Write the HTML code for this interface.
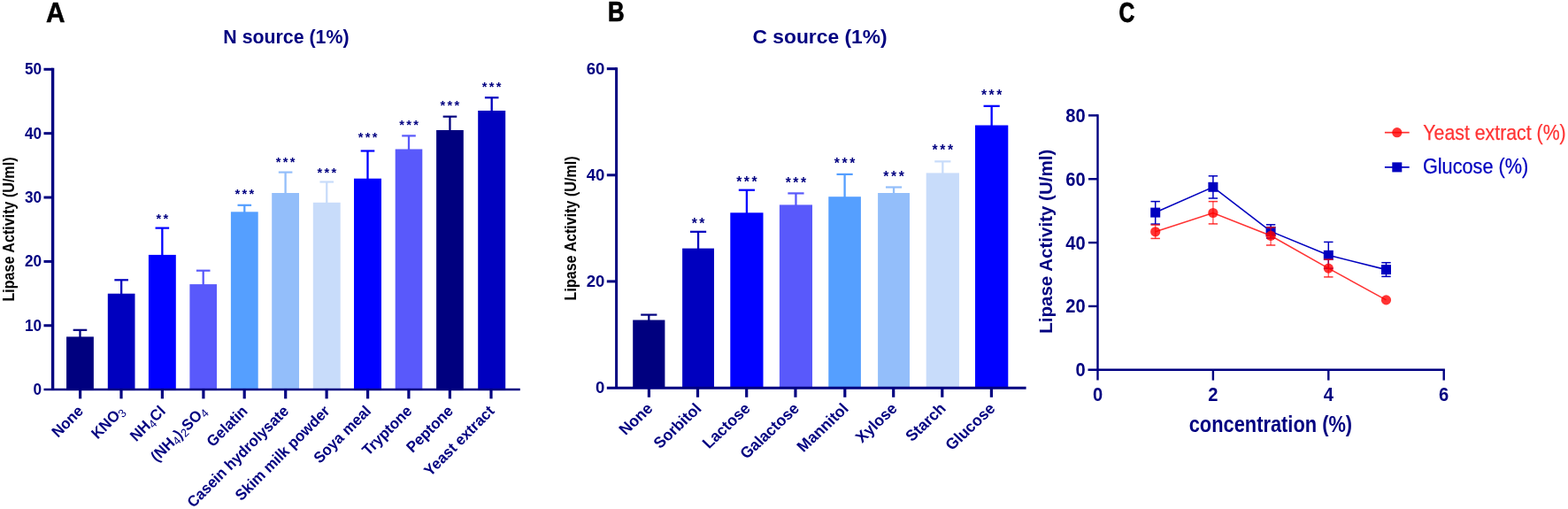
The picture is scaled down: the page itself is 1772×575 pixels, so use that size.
<!DOCTYPE html>
<html lang="en">
<head>
<meta charset="utf-8">
<title>Lipase activity charts</title>
<style>
html, body { margin: 0; padding: 0; background: #fff; }
body { width: 1772px; height: 575px; overflow: hidden; }
svg { display: block; font-family: 'Liberation Sans', Arial, sans-serif; }
text { font-family: 'Liberation Sans', Arial, sans-serif; }
</style>
</head>
<body>
<svg width="1772" height="575" viewBox="0 0 1772 575">
<rect x="0" y="0" width="1772" height="575" fill="#ffffff"/>
<text transform="translate(51.90 24.60) scale(0.96 1)" font-size="31" font-weight="bold" fill="#000" text-anchor="start" stroke="#000" stroke-width="0.5">A</text>
<text transform="translate(686.90 24.25) scale(0.831 1)" font-size="31" font-weight="bold" fill="#000" text-anchor="start" stroke="#000" stroke-width="0.7">B</text>
<text transform="translate(1264.50 24.55) scale(0.806 1)" font-size="30.5" font-weight="bold" fill="#000" text-anchor="start" stroke="#000" stroke-width="0.8">C</text>
<rect x="75.06" y="380.40" width="30.81" height="59.50" fill="#00007F"/>
<line x1="90.47" y1="372.80" x2="90.47" y2="381.40" stroke="#00007F" stroke-width="2.3" />
<line x1="82.67" y1="372.80" x2="98.27" y2="372.80" stroke="#00007F" stroke-width="2.2" />
<rect x="121.80" y="331.70" width="30.70" height="108.20" fill="#0000BF"/>
<line x1="137.15" y1="316.30" x2="137.15" y2="332.70" stroke="#0000BF" stroke-width="2.3" />
<line x1="129.35" y1="316.30" x2="144.95" y2="316.30" stroke="#0000BF" stroke-width="2.2" />
<rect x="167.90" y="287.90" width="30.90" height="152.00" fill="#0000FF"/>
<line x1="183.35" y1="257.60" x2="183.35" y2="288.90" stroke="#0000FF" stroke-width="2.3" />
<line x1="175.55" y1="257.60" x2="191.15" y2="257.60" stroke="#0000FF" stroke-width="2.2" />
<text transform="translate(176.50 251.73)" font-size="14.6" font-weight="bold" fill="#000080" text-anchor="start" letter-spacing="2.32">**</text>
<rect x="214.40" y="321.10" width="30.60" height="118.80" fill="#5959FB"/>
<line x1="229.70" y1="305.70" x2="229.70" y2="322.10" stroke="#5959FB" stroke-width="2.3" />
<line x1="221.90" y1="305.70" x2="237.50" y2="305.70" stroke="#5959FB" stroke-width="2.2" />
<rect x="260.90" y="239.30" width="30.80" height="200.60" fill="#559FFF"/>
<line x1="276.30" y1="231.80" x2="276.30" y2="240.30" stroke="#559FFF" stroke-width="2.3" />
<line x1="268.50" y1="231.80" x2="284.10" y2="231.80" stroke="#559FFF" stroke-width="2.2" />
<text transform="translate(265.45 224.03)" font-size="14.6" font-weight="bold" fill="#000080" text-anchor="start" letter-spacing="2.32">***</text>
<rect x="307.20" y="218.00" width="30.80" height="221.90" fill="#93BEFA"/>
<line x1="322.60" y1="194.60" x2="322.60" y2="219.00" stroke="#93BEFA" stroke-width="2.3" />
<line x1="314.80" y1="194.60" x2="330.40" y2="194.60" stroke="#93BEFA" stroke-width="2.2" />
<text transform="translate(311.75 187.93)" font-size="14.6" font-weight="bold" fill="#000080" text-anchor="start" letter-spacing="2.32">***</text>
<rect x="353.80" y="228.80" width="30.90" height="211.10" fill="#C8DCFA"/>
<line x1="369.25" y1="205.50" x2="369.25" y2="229.80" stroke="#C8DCFA" stroke-width="2.3" />
<line x1="361.45" y1="205.50" x2="377.05" y2="205.50" stroke="#C8DCFA" stroke-width="2.2" />
<text transform="translate(358.40 199.83)" font-size="14.6" font-weight="bold" fill="#000080" text-anchor="start" letter-spacing="2.32">***</text>
<rect x="400.00" y="201.70" width="31.00" height="238.20" fill="#0000FF"/>
<line x1="415.50" y1="170.50" x2="415.50" y2="202.70" stroke="#0000FF" stroke-width="2.3" />
<line x1="407.70" y1="170.50" x2="423.30" y2="170.50" stroke="#0000FF" stroke-width="2.2" />
<text transform="translate(404.65 160.03)" font-size="14.6" font-weight="bold" fill="#000080" text-anchor="start" letter-spacing="2.32">***</text>
<rect x="446.70" y="168.50" width="30.60" height="271.40" fill="#5959FB"/>
<line x1="462.00" y1="153.40" x2="462.00" y2="169.50" stroke="#5959FB" stroke-width="2.3" />
<line x1="454.20" y1="153.40" x2="469.80" y2="153.40" stroke="#5959FB" stroke-width="2.2" />
<text transform="translate(451.15 145.93)" font-size="14.6" font-weight="bold" fill="#000080" text-anchor="start" letter-spacing="2.32">***</text>
<rect x="493.10" y="147.00" width="30.70" height="292.90" fill="#00007F"/>
<line x1="508.45" y1="131.70" x2="508.45" y2="148.00" stroke="#00007F" stroke-width="2.3" />
<line x1="500.65" y1="131.70" x2="516.25" y2="131.70" stroke="#00007F" stroke-width="2.2" />
<text transform="translate(497.60 123.93)" font-size="14.6" font-weight="bold" fill="#000080" text-anchor="start" letter-spacing="2.32">***</text>
<rect x="540.20" y="125.00" width="31.00" height="314.90" fill="#0000BF"/>
<line x1="555.70" y1="110.30" x2="555.70" y2="126.00" stroke="#0000BF" stroke-width="2.3" />
<line x1="547.90" y1="110.30" x2="563.50" y2="110.30" stroke="#0000BF" stroke-width="2.2" />
<text transform="translate(544.85 102.63)" font-size="14.6" font-weight="bold" fill="#000080" text-anchor="start" letter-spacing="2.32">***</text>
<line x1="59.60" y1="76.80" x2="59.60" y2="439.90" stroke="#000080" stroke-width="3.4" />
<line x1="49.50" y1="439.90" x2="587.80" y2="439.90" stroke="#000080" stroke-width="2.5" />
<line x1="49.50" y1="78.30" x2="59.60" y2="78.30" stroke="#000080" stroke-width="3" />
<text transform="translate(47.00 84.20) scale(0.935 1)" font-size="18.4" font-weight="bold" fill="#000080" text-anchor="end" >50</text>
<line x1="49.50" y1="150.66" x2="59.60" y2="150.66" stroke="#000080" stroke-width="3" />
<text transform="translate(47.00 156.56) scale(0.935 1)" font-size="18.4" font-weight="bold" fill="#000080" text-anchor="end" >40</text>
<line x1="49.50" y1="223.02" x2="59.60" y2="223.02" stroke="#000080" stroke-width="3" />
<text transform="translate(47.00 228.92) scale(0.935 1)" font-size="18.4" font-weight="bold" fill="#000080" text-anchor="end" >30</text>
<line x1="49.50" y1="295.38" x2="59.60" y2="295.38" stroke="#000080" stroke-width="3" />
<text transform="translate(47.00 301.28) scale(0.935 1)" font-size="18.4" font-weight="bold" fill="#000080" text-anchor="end" >20</text>
<line x1="49.50" y1="367.74" x2="59.60" y2="367.74" stroke="#000080" stroke-width="3" />
<text transform="translate(47.00 373.64) scale(0.935 1)" font-size="18.4" font-weight="bold" fill="#000080" text-anchor="end" >10</text>
<text transform="translate(47.00 446.00) scale(0.935 1)" font-size="18.4" font-weight="bold" fill="#000080" text-anchor="end" >0</text>
<line x1="90.60" y1="439.90" x2="90.60" y2="450.40" stroke="#000080" stroke-width="3.2" />
<text transform="translate(95.20 465.40) rotate(-45) scale(0.971 1)" font-size="17.3" font-weight="bold" fill="#000080" text-anchor="end" >None</text>
<line x1="137.00" y1="439.90" x2="137.00" y2="450.40" stroke="#000080" stroke-width="3.2" />
<text transform="translate(141.60 465.40) rotate(-45) scale(0.971 1)" font-size="17.3" font-weight="bold" fill="#000080" text-anchor="end" >KNO<tspan font-size="13" font-weight="normal" dy="3">3</tspan></text>
<line x1="183.40" y1="439.90" x2="183.40" y2="450.40" stroke="#000080" stroke-width="3.2" />
<text transform="translate(188.00 465.40) rotate(-45) scale(0.971 1)" font-size="17.3" font-weight="bold" fill="#000080" text-anchor="end" >NH<tspan font-size="13" font-weight="normal" dy="3">4</tspan><tspan dy="-3">Cl</tspan></text>
<line x1="229.90" y1="439.90" x2="229.90" y2="450.40" stroke="#000080" stroke-width="3.2" />
<text transform="translate(234.50 465.40) rotate(-45) scale(0.971 1)" font-size="17.3" font-weight="bold" fill="#000080" text-anchor="end" >(NH<tspan font-size="13" font-weight="normal" dy="3">4</tspan><tspan dy="-3">)</tspan><tspan font-size="13" font-weight="normal" dy="3">2</tspan><tspan dy="-3">SO</tspan><tspan font-size="13" font-weight="normal" dy="3">4</tspan></text>
<line x1="276.20" y1="439.90" x2="276.20" y2="450.40" stroke="#000080" stroke-width="3.2" />
<text transform="translate(280.80 465.40) rotate(-45) scale(0.971 1)" font-size="17.3" font-weight="bold" fill="#000080" text-anchor="end" >Gelatin</text>
<line x1="322.70" y1="439.90" x2="322.70" y2="450.40" stroke="#000080" stroke-width="3.2" />
<text transform="translate(327.30 465.40) rotate(-45) scale(0.971 1)" font-size="17.3" font-weight="bold" fill="#000080" text-anchor="end" >Casein hydrolysate</text>
<line x1="369.10" y1="439.90" x2="369.10" y2="450.40" stroke="#000080" stroke-width="3.2" />
<text transform="translate(373.70 465.40) rotate(-45) scale(0.971 1)" font-size="17.3" font-weight="bold" fill="#000080" text-anchor="end" >Skim milk powder</text>
<line x1="415.60" y1="439.90" x2="415.60" y2="450.40" stroke="#000080" stroke-width="3.2" />
<text transform="translate(420.20 465.40) rotate(-45) scale(0.971 1)" font-size="17.3" font-weight="bold" fill="#000080" text-anchor="end" >Soya meal</text>
<line x1="461.90" y1="439.90" x2="461.90" y2="450.40" stroke="#000080" stroke-width="3.2" />
<text transform="translate(466.50 465.40) rotate(-45) scale(0.971 1)" font-size="17.3" font-weight="bold" fill="#000080" text-anchor="end" >Tryptone</text>
<line x1="508.40" y1="439.90" x2="508.40" y2="450.40" stroke="#000080" stroke-width="3.2" />
<text transform="translate(513.00 465.40) rotate(-45) scale(0.971 1)" font-size="17.3" font-weight="bold" fill="#000080" text-anchor="end" >Peptone</text>
<line x1="555.00" y1="439.90" x2="555.00" y2="450.40" stroke="#000080" stroke-width="3.2" />
<text transform="translate(559.60 465.40) rotate(-45) scale(0.971 1)" font-size="17.3" font-weight="bold" fill="#000080" text-anchor="end" >Yeast extract</text>
<text transform="translate(323.40 48.50) scale(0.97 1)" font-size="22" font-weight="bold" fill="#000080" text-anchor="middle" >N source (1%)</text>
<text transform="translate(15.80 259.00) rotate(-90)" font-size="19" font-weight="bold" fill="#000" text-anchor="middle" textLength="163" lengthAdjust="spacingAndGlyphs" >Lipase Activity (U/ml)</text>
<rect x="715.20" y="361.50" width="36.20" height="76.80" fill="#00007F"/>
<line x1="733.30" y1="355.60" x2="733.30" y2="362.50" stroke="#00007F" stroke-width="2.3" />
<line x1="724.20" y1="355.60" x2="742.40" y2="355.60" stroke="#00007F" stroke-width="2.2" />
<rect x="771.10" y="280.60" width="35.90" height="157.70" fill="#0000BF"/>
<line x1="789.05" y1="261.80" x2="789.05" y2="281.60" stroke="#0000BF" stroke-width="2.3" />
<line x1="779.95" y1="261.80" x2="798.15" y2="261.80" stroke="#0000BF" stroke-width="2.2" />
<text transform="translate(781.65 258.38)" font-size="15.7" font-weight="bold" fill="#000080" text-anchor="start" letter-spacing="2.55">**</text>
<rect x="825.30" y="240.30" width="37.20" height="198.00" fill="#0000FF"/>
<line x1="843.90" y1="214.70" x2="843.90" y2="241.30" stroke="#0000FF" stroke-width="2.3" />
<line x1="834.80" y1="214.70" x2="853.00" y2="214.70" stroke="#0000FF" stroke-width="2.2" />
<text transform="translate(832.17 210.88)" font-size="15.7" font-weight="bold" fill="#000080" text-anchor="start" letter-spacing="2.55">***</text>
<rect x="880.90" y="231.40" width="37.10" height="206.90" fill="#5959FB"/>
<line x1="899.45" y1="218.40" x2="899.45" y2="232.40" stroke="#5959FB" stroke-width="2.3" />
<line x1="890.35" y1="218.40" x2="908.55" y2="218.40" stroke="#5959FB" stroke-width="2.2" />
<text transform="translate(887.72 212.08)" font-size="15.7" font-weight="bold" fill="#000080" text-anchor="start" letter-spacing="2.55">***</text>
<rect x="936.30" y="222.20" width="36.60" height="216.10" fill="#559FFF"/>
<line x1="954.60" y1="196.90" x2="954.60" y2="223.20" stroke="#559FFF" stroke-width="2.3" />
<line x1="945.50" y1="196.90" x2="963.70" y2="196.90" stroke="#559FFF" stroke-width="2.2" />
<text transform="translate(942.87 190.18)" font-size="15.7" font-weight="bold" fill="#000080" text-anchor="start" letter-spacing="2.55">***</text>
<rect x="992.10" y="218.00" width="35.90" height="220.30" fill="#93BEFA"/>
<line x1="1010.05" y1="211.50" x2="1010.05" y2="219.00" stroke="#93BEFA" stroke-width="2.3" />
<line x1="1000.95" y1="211.50" x2="1019.15" y2="211.50" stroke="#93BEFA" stroke-width="2.2" />
<text transform="translate(998.32 205.38)" font-size="15.7" font-weight="bold" fill="#000080" text-anchor="start" letter-spacing="2.55">***</text>
<rect x="1046.70" y="195.40" width="37.25" height="242.90" fill="#C8DCFA"/>
<line x1="1065.33" y1="182.40" x2="1065.33" y2="196.40" stroke="#C8DCFA" stroke-width="2.3" />
<line x1="1056.23" y1="182.40" x2="1074.42" y2="182.40" stroke="#C8DCFA" stroke-width="2.2" />
<text transform="translate(1053.60 174.88)" font-size="15.7" font-weight="bold" fill="#000080" text-anchor="start" letter-spacing="2.55">***</text>
<rect x="1102.00" y="141.50" width="37.30" height="296.80" fill="#0000FF"/>
<line x1="1120.65" y1="119.80" x2="1120.65" y2="142.50" stroke="#0000FF" stroke-width="2.3" />
<line x1="1111.55" y1="119.80" x2="1129.75" y2="119.80" stroke="#0000FF" stroke-width="2.2" />
<text transform="translate(1108.92 112.88)" font-size="15.7" font-weight="bold" fill="#000080" text-anchor="start" letter-spacing="2.55">***</text>
<line x1="696.60" y1="76.20" x2="696.60" y2="438.30" stroke="#000080" stroke-width="3.0" />
<line x1="685.80" y1="438.30" x2="1159.60" y2="438.30" stroke="#000080" stroke-width="2.9" />
<line x1="685.80" y1="77.70" x2="696.60" y2="77.70" stroke="#000080" stroke-width="3" />
<text transform="translate(683.35 83.60) scale(1.01 1)" font-size="18.4" font-weight="bold" fill="#000080" text-anchor="end" >60</text>
<line x1="685.80" y1="197.80" x2="696.60" y2="197.80" stroke="#000080" stroke-width="3" />
<text transform="translate(683.35 203.70) scale(1.01 1)" font-size="18.4" font-weight="bold" fill="#000080" text-anchor="end" >40</text>
<line x1="685.80" y1="317.90" x2="696.60" y2="317.90" stroke="#000080" stroke-width="3" />
<text transform="translate(683.35 323.80) scale(1.01 1)" font-size="18.4" font-weight="bold" fill="#000080" text-anchor="end" >20</text>
<text transform="translate(683.35 443.90) scale(1.01 1)" font-size="18.4" font-weight="bold" fill="#000080" text-anchor="end" >0</text>
<line x1="733.40" y1="438.30" x2="733.40" y2="448.80" stroke="#000080" stroke-width="3.2" />
<text transform="translate(738.70 462.60) scale(1.065 1) rotate(-45) scale(0.971 1)" font-size="17.3" font-weight="bold" fill="#000080" text-anchor="end" >None</text>
<line x1="788.50" y1="438.30" x2="788.50" y2="448.80" stroke="#000080" stroke-width="3.2" />
<text transform="translate(793.80 462.60) scale(1.065 1) rotate(-45) scale(0.971 1)" font-size="17.3" font-weight="bold" fill="#000080" text-anchor="end" >Sorbitol</text>
<line x1="843.70" y1="438.30" x2="843.70" y2="448.80" stroke="#000080" stroke-width="3.2" />
<text transform="translate(849.00 462.60) scale(1.065 1) rotate(-45) scale(0.971 1)" font-size="17.3" font-weight="bold" fill="#000080" text-anchor="end" >Lactose</text>
<line x1="898.95" y1="438.30" x2="898.95" y2="448.80" stroke="#000080" stroke-width="3.2" />
<text transform="translate(904.25 462.60) scale(1.065 1) rotate(-45) scale(0.971 1)" font-size="17.3" font-weight="bold" fill="#000080" text-anchor="end" >Galactose</text>
<line x1="954.80" y1="438.30" x2="954.80" y2="448.80" stroke="#000080" stroke-width="3.2" />
<text transform="translate(960.10 462.60) scale(1.065 1) rotate(-45) scale(0.971 1)" font-size="17.3" font-weight="bold" fill="#000080" text-anchor="end" >Mannitol</text>
<line x1="1009.70" y1="438.30" x2="1009.70" y2="448.80" stroke="#000080" stroke-width="3.2" />
<text transform="translate(1015.00 462.60) scale(1.065 1) rotate(-45) scale(0.971 1)" font-size="17.3" font-weight="bold" fill="#000080" text-anchor="end" >Xylose</text>
<line x1="1064.80" y1="438.30" x2="1064.80" y2="448.80" stroke="#000080" stroke-width="3.2" />
<text transform="translate(1070.10 462.60) scale(1.065 1) rotate(-45) scale(0.971 1)" font-size="17.3" font-weight="bold" fill="#000080" text-anchor="end" >Starch</text>
<line x1="1120.40" y1="438.30" x2="1120.40" y2="448.80" stroke="#000080" stroke-width="3.2" />
<text transform="translate(1125.70 462.60) scale(1.065 1) rotate(-45) scale(0.971 1)" font-size="17.3" font-weight="bold" fill="#000080" text-anchor="end" >Glucose</text>
<text transform="translate(926.50 48.50) scale(1.037 1)" font-size="22" font-weight="bold" fill="#000080" text-anchor="middle" >C source (1%)</text>
<text transform="translate(651.30 257.90) rotate(-90)" font-size="19" font-weight="bold" fill="#000" text-anchor="middle" textLength="163" lengthAdjust="spacingAndGlyphs" >Lipase Activity (U/ml)</text>
<line x1="1240.50" y1="129.20" x2="1240.50" y2="429.60" stroke="#000080" stroke-width="2.4" />
<line x1="1229.50" y1="417.80" x2="1632.90" y2="417.80" stroke="#000080" stroke-width="2.4" />
<line x1="1230.00" y1="130.40" x2="1240.50" y2="130.40" stroke="#000080" stroke-width="2.4" />
<text transform="translate(1226.60 137.80) scale(0.908 1)" font-size="22.2" font-weight="bold" fill="#000080" text-anchor="end" >80</text>
<line x1="1230.00" y1="202.25" x2="1240.50" y2="202.25" stroke="#000080" stroke-width="2.4" />
<text transform="translate(1226.60 209.65) scale(0.908 1)" font-size="22.2" font-weight="bold" fill="#000080" text-anchor="end" >60</text>
<line x1="1230.00" y1="274.10" x2="1240.50" y2="274.10" stroke="#000080" stroke-width="2.4" />
<text transform="translate(1226.60 281.50) scale(0.908 1)" font-size="22.2" font-weight="bold" fill="#000080" text-anchor="end" >40</text>
<line x1="1230.00" y1="345.95" x2="1240.50" y2="345.95" stroke="#000080" stroke-width="2.4" />
<text transform="translate(1226.60 353.35) scale(0.908 1)" font-size="22.2" font-weight="bold" fill="#000080" text-anchor="end" >20</text>
<text transform="translate(1226.60 425.20) scale(0.908 1)" font-size="22.2" font-weight="bold" fill="#000080" text-anchor="end" >0</text>
<text transform="translate(1240.50 453.40) scale(0.908 1)" font-size="22.2" font-weight="bold" fill="#000080" text-anchor="middle" >0</text>
<line x1="1370.90" y1="417.80" x2="1370.90" y2="429.60" stroke="#000080" stroke-width="2.4" />
<text transform="translate(1370.90 453.40) scale(0.908 1)" font-size="22.2" font-weight="bold" fill="#000080" text-anchor="middle" >2</text>
<line x1="1501.30" y1="417.80" x2="1501.30" y2="429.60" stroke="#000080" stroke-width="2.4" />
<text transform="translate(1501.30 453.40) scale(0.908 1)" font-size="22.2" font-weight="bold" fill="#000080" text-anchor="middle" >4</text>
<line x1="1631.70" y1="417.80" x2="1631.70" y2="429.60" stroke="#000080" stroke-width="2.4" />
<text transform="translate(1631.70 453.40) scale(0.908 1)" font-size="22.2" font-weight="bold" fill="#000080" text-anchor="middle" >6</text>
<text transform="translate(1435.90 487.80)" font-size="26" font-weight="bold" fill="#000080" text-anchor="middle" textLength="184.5" lengthAdjust="spacingAndGlyphs" >concentration (%)</text>
<text transform="translate(1189.00 272.75) rotate(-90)" font-size="20.6" font-weight="bold" fill="#000080" text-anchor="middle" textLength="208" lengthAdjust="spacingAndGlyphs" >Lipase Activity (U/ml)</text>
<polyline fill="none" stroke="#0000BF" stroke-width="1.6" points="1305.70,240.10 1370.90,211.30 1436.10,261.40 1501.30,288.30 1566.50,304.60"/>
<line x1="1305.70" y1="227.60" x2="1305.70" y2="253.10" stroke="#0000BF" stroke-width="1.5" />
<line x1="1300.50" y1="227.60" x2="1310.90" y2="227.60" stroke="#0000BF" stroke-width="1.5" />
<line x1="1300.50" y1="253.10" x2="1310.90" y2="253.10" stroke="#0000BF" stroke-width="1.5" />
<rect x="1300.20" y="234.60" width="11.00" height="11.00" fill="#0000BF"/>
<line x1="1370.90" y1="198.80" x2="1370.90" y2="224.00" stroke="#0000BF" stroke-width="1.5" />
<line x1="1365.70" y1="198.80" x2="1376.10" y2="198.80" stroke="#0000BF" stroke-width="1.5" />
<line x1="1365.70" y1="224.00" x2="1376.10" y2="224.00" stroke="#0000BF" stroke-width="1.5" />
<rect x="1365.40" y="205.80" width="11.00" height="11.00" fill="#0000BF"/>
<line x1="1436.10" y1="253.80" x2="1436.10" y2="269.00" stroke="#0000BF" stroke-width="1.5" />
<line x1="1430.90" y1="253.80" x2="1441.30" y2="253.80" stroke="#0000BF" stroke-width="1.5" />
<line x1="1430.90" y1="269.00" x2="1441.30" y2="269.00" stroke="#0000BF" stroke-width="1.5" />
<rect x="1430.60" y="255.90" width="11.00" height="11.00" fill="#0000BF"/>
<line x1="1501.30" y1="273.40" x2="1501.30" y2="303.20" stroke="#0000BF" stroke-width="1.5" />
<line x1="1496.10" y1="273.40" x2="1506.50" y2="273.40" stroke="#0000BF" stroke-width="1.5" />
<line x1="1496.10" y1="303.20" x2="1506.50" y2="303.20" stroke="#0000BF" stroke-width="1.5" />
<rect x="1495.80" y="282.80" width="11.00" height="11.00" fill="#0000BF"/>
<line x1="1566.50" y1="296.70" x2="1566.50" y2="312.40" stroke="#0000BF" stroke-width="1.5" />
<line x1="1561.30" y1="296.70" x2="1571.70" y2="296.70" stroke="#0000BF" stroke-width="1.5" />
<line x1="1561.30" y1="312.40" x2="1571.70" y2="312.40" stroke="#0000BF" stroke-width="1.5" />
<rect x="1561.00" y="299.10" width="11.00" height="11.00" fill="#0000BF"/>
<g opacity="0.8">
<polyline fill="none" stroke="#FF0000" stroke-width="1.6" points="1305.70,261.80 1370.90,240.50 1436.10,266.30 1501.30,303.10 1566.50,338.90"/>
</g>
<circle cx="1305.70" cy="261.80" r="5.6" fill="#FF0000" fill-opacity="0.8"/>
<line x1="1305.70" y1="254.10" x2="1305.70" y2="269.40" stroke="#FF0000" stroke-width="1.5" stroke-opacity="0.6"/>
<line x1="1300.50" y1="254.10" x2="1310.90" y2="254.10" stroke="#FF0000" stroke-width="1.5" stroke-opacity="0.8"/>
<line x1="1300.50" y1="269.40" x2="1310.90" y2="269.40" stroke="#FF0000" stroke-width="1.5" stroke-opacity="0.8"/>
<circle cx="1370.90" cy="240.50" r="5.6" fill="#FF0000" fill-opacity="0.8"/>
<line x1="1370.90" y1="227.60" x2="1370.90" y2="252.90" stroke="#FF0000" stroke-width="1.5" stroke-opacity="0.6"/>
<line x1="1365.70" y1="227.60" x2="1376.10" y2="227.60" stroke="#FF0000" stroke-width="1.5" stroke-opacity="0.8"/>
<line x1="1365.70" y1="252.90" x2="1376.10" y2="252.90" stroke="#FF0000" stroke-width="1.5" stroke-opacity="0.8"/>
<circle cx="1436.10" cy="266.30" r="5.6" fill="#FF0000" fill-opacity="0.8"/>
<line x1="1436.10" y1="256.90" x2="1436.10" y2="277.00" stroke="#FF0000" stroke-width="1.5" stroke-opacity="0.6"/>
<line x1="1430.90" y1="256.90" x2="1441.30" y2="256.90" stroke="#FF0000" stroke-width="1.5" stroke-opacity="0.8"/>
<line x1="1430.90" y1="277.00" x2="1441.30" y2="277.00" stroke="#FF0000" stroke-width="1.5" stroke-opacity="0.8"/>
<circle cx="1501.30" cy="303.10" r="5.6" fill="#FF0000" fill-opacity="0.8"/>
<line x1="1501.30" y1="293.10" x2="1501.30" y2="312.90" stroke="#FF0000" stroke-width="1.5" stroke-opacity="0.6"/>
<line x1="1496.10" y1="293.10" x2="1506.50" y2="293.10" stroke="#FF0000" stroke-width="1.5" stroke-opacity="0.8"/>
<line x1="1496.10" y1="312.90" x2="1506.50" y2="312.90" stroke="#FF0000" stroke-width="1.5" stroke-opacity="0.8"/>
<circle cx="1566.50" cy="338.90" r="5.6" fill="#FF0000" fill-opacity="0.8"/>
<line x1="1564.90" y1="149.70" x2="1592.70" y2="149.70" stroke="#FF0000" stroke-width="1.7" stroke-opacity="0.8"/>
<circle cx="1578.8" cy="149.7" r="5.6" fill="#FF0000" fill-opacity="0.8"/>
<text transform="translate(1608.30 157.60)" font-size="24.2" font-weight="normal" fill="#FF3333" text-anchor="start" textLength="161.4" lengthAdjust="spacingAndGlyphs" stroke="#FF3333" stroke-width="0.25">Yeast extract (%)</text>
<line x1="1564.90" y1="188.90" x2="1592.70" y2="188.90" stroke="#0000BF" stroke-width="1.7" />
<rect x="1573.30" y="183.40" width="11.00" height="11.00" fill="#0000BF"/>
<text transform="translate(1607.90 195.70)" font-size="24.2" font-weight="normal" fill="#0000BF" text-anchor="start" textLength="119.3" lengthAdjust="spacingAndGlyphs" stroke="#0000BF" stroke-width="0.25">Glucose (%)</text>
</svg>
</body>
</html>
